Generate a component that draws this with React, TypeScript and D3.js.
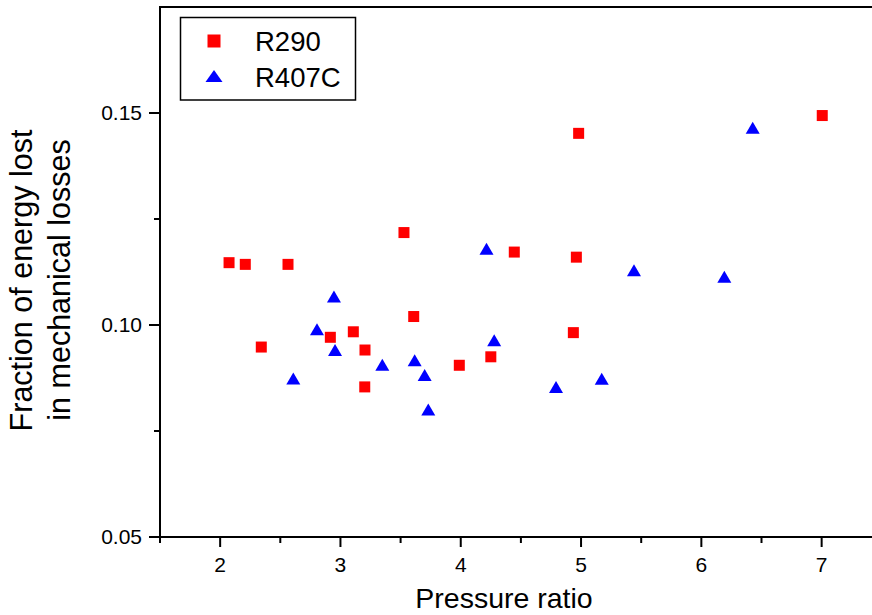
import React from "react";
import * as d3 from "d3";

const r290X = [2.074, 2.209, 2.342, 2.564, 2.916, 3.107, 3.204, 3.202, 3.528, 3.609, 3.988, 4.25, 4.445, 4.936, 4.961, 4.98, 7.005];
const r290Y = [0.1147, 0.1143, 0.0948, 0.1143, 0.0971, 0.0984, 0.0941, 0.0854, 0.1218, 0.102, 0.0905, 0.0925, 0.1172, 0.0982, 0.116, 0.1452, 0.1494];
const r407X = [2.608, 2.805, 2.946, 2.955, 3.348, 3.617, 3.7, 3.73, 4.214, 4.278, 4.792, 5.172, 5.44, 6.191, 6.427];
const r407Y = [0.0874, 0.099, 0.1067, 0.0941, 0.0906, 0.0917, 0.0882, 0.0801, 0.118, 0.0964, 0.0854, 0.0873, 0.1129, 0.1114, 0.1465];
const xMajor = [2, 3, 4, 5, 6, 7];
const xMinor = [1.5, 2.5, 3.5, 4.5, 5.5, 6.5, 7.5];
const yMajor = [0.05, 0.1, 0.15];
const yMinor = [0.075, 0.125];
const seriesNames = ["R290", "R407C"];
const xTitle = "Pressure ratio";
const yTitle = ["Fraction of energy lost", "in mechanical losses"];

const W = 872;
const H = 615;
const left = 160;
const bottom = 537;
const top = 7;
const font = "'Liberation Sans', Arial, sans-serif";

export default function App() {
  const x = d3.scaleLinear().domain([1.5, 7.5]).range([left, left + 6 * 120.3]);
  const y = d3.scaleLinear().domain([0.05, 0.175]).range([bottom, top]);
  const sq = 11;
  const triW = 14;
  const triH = 12;
  const tri = (cx: number, cy: number) =>
    `M${cx},${cy - triH / 2}L${cx + triW / 2},${cy + triH / 2}L${cx - triW / 2},${cy + triH / 2}Z`;

  return (
    <svg width={W} height={H} style={{ position: "absolute", left: 0, top: 0, background: "#fff" }}>
      <rect x={0} y={0} width={W} height={H} fill="#fff" />
      {/* axes */}
      <line x1={left} x2={W} y1={bottom} y2={bottom} stroke="#000" strokeWidth={2} />
      <line x1={left} x2={left} y1={top} y2={bottom + 1} stroke="#000" strokeWidth={2} />
      <line x1={left - 1} x2={W} y1={top} y2={top} stroke="#000" strokeWidth={2} />
      {xMajor.map((v) => (
        <g key={"xm" + v}>
          <line x1={x(v)} x2={x(v)} y1={bottom} y2={bottom + 10} stroke="#000" strokeWidth={2} />
          <text x={x(v)} y={572} fontSize={21} fontFamily={font} textAnchor="middle">{v}</text>
        </g>
      ))}
      {xMinor.map((v) => (
        <line key={"xn" + v} x1={x(v)} x2={x(v)} y1={bottom} y2={bottom + 6} stroke="#000" strokeWidth={2} />
      ))}
      {yMajor.map((v) => (
        <g key={"ym" + v}>
          <line x1={left - 11} x2={left} y1={y(v)} y2={y(v)} stroke="#000" strokeWidth={2} />
          <text x={142} y={y(v) + 7} fontSize={21} fontFamily={font} textAnchor="end">{v.toFixed(2)}</text>
        </g>
      ))}
      {yMinor.map((v) => (
        <line key={"yn" + v} x1={left - 6} x2={left} y1={y(v)} y2={y(v)} stroke="#000" strokeWidth={2} />
      ))}
      {/* titles */}
      <text x={504} y={608} fontSize={28.5} fontFamily={font} textAnchor="middle">{xTitle}</text>
      <text transform="translate(31.5,280.5) rotate(-90)" fontSize={30.5} fontFamily={font} textAnchor="middle">{yTitle[0]}</text>
      <text transform="translate(69.5,280) rotate(-90)" fontSize={30.5} fontFamily={font} textAnchor="middle">{yTitle[1]}</text>
      {/* data */}
      {r290X.map((v, i) => (
        <rect key={"s" + i} x={x(v) - sq / 2} y={y(r290Y[i]) - sq / 2} width={sq} height={sq} fill="#ff0000" />
      ))}
      {r407X.map((v, i) => (
        <path key={"t" + i} d={tri(x(v), y(r407Y[i]))} fill="#0000ff" />
      ))}
      {/* legend */}
      <rect x={180.5} y={17.5} width={175} height={82.5} fill="#fff" stroke="#000" strokeWidth={1.5} />
      <rect x={214 - 6.5} y={41 - 6.5} width={13} height={13} fill="#ff0000" />
      <path d={`M214,${76 - 6}L${214 + 8.5},${76 + 6}L${214 - 8.5},${76 + 6}Z`} fill="#0000ff" />
      <text x={255} y={51} fontSize={27.5} fontFamily={font}>{seriesNames[0]}</text>
      <text x={255} y={87} fontSize={27.5} fontFamily={font}>{seriesNames[1]}</text>
    </svg>
  );
}
